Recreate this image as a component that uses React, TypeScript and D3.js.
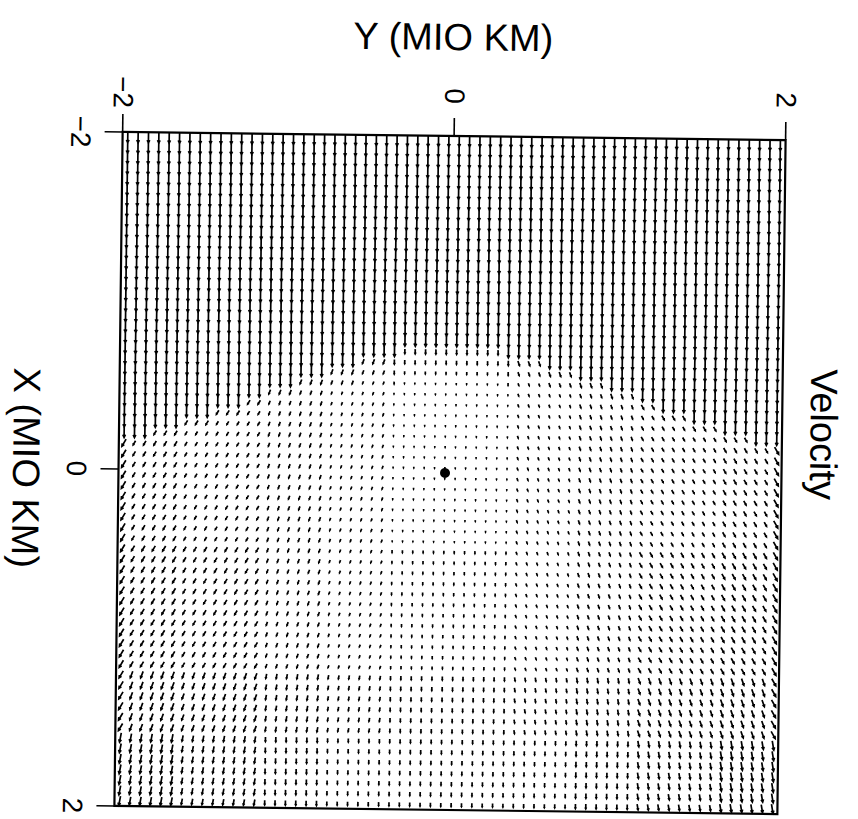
import React from "react";
import * as d3 from "d3";

const W = 858;
const H = 819;
// plot frame before the small scan rotation is applied
const frame = { left: 118.5, right: 781.5, top: 136, bottom: 810 };
const scanTilt = 0.7;

const yTicks = [-2, 0, 2];
const xTicks = [-2, 0, 2];
const gridN = 64;
const nucleus = { x: 0, y: -0.03 };

// speed level per arrow (0..9, 9 = one grid cell), run length coded "count:level"
// rows go from X = -2 (top) to X = 2 (bottom), columns from Y = -2 to Y = 2
const speedRows = [
  "64:9", "64:9", "64:9", "64:9", "64:9", "64:9", "64:9", "64:9", "64:9", "64:9",
  "64:9", "64:9", "64:9", "64:9", "64:9", "64:9", "64:9", "64:9", "64:9", "64:9",
  "27:9 10:4 27:9",
  "23:9 4:4 10:3 4:4 23:9",
  "20:9 3:4 4:3 10:2 4:3 3:4 20:9",
  "17:9 3:4 3:3 4:2 10:1 4:2 3:3 3:4 17:9",
  "14:9 3:4 3:3 6:2 12:1 6:2 3:3 3:4 14:9",
  "12:9 2:4 6:3 6:2 12:1 6:2 6:3 2:4 12:9",
  "9:9 3:4 8:3 6:2 12:1 6:2 8:3 3:4 9:9",
  "6:9 3:4 11:3 6:2 12:1 6:2 11:3 3:4 6:9",
  "3:9 3:4 14:3 6:2 12:1 6:2 14:3 3:4 3:9",
  "1:7 5:4 14:3 6:2 12:1 6:2 14:3 5:4 1:7",
  "1:7 5:4 14:3 6:2 12:1 6:2 14:3 5:4 1:7",
  "1:7 5:4 14:3 6:2 12:1 6:2 14:3 5:4 1:7",
  "1:7 5:4 14:3 6:2 12:1 6:2 14:3 5:4 1:7",
  "1:7 5:4 14:3 6:2 12:1 6:2 14:3 5:4 1:7",
  "1:7 5:4 14:3 6:2 12:1 6:2 14:3 5:4 1:7",
  "1:7 5:4 14:3 6:2 12:1 6:2 14:3 5:4 1:7",
  "1:7 5:4 14:3 6:2 12:1 6:2 14:3 5:4 1:7",
  "1:7 5:4 14:3 6:2 12:1 6:2 14:3 5:4 1:7",
  "1:7 5:4 14:3 6:2 12:1 6:2 14:3 5:4 1:7",
  "1:7 5:5 8:4 6:3 24:2 6:3 8:4 5:5 1:7",
  "1:7 5:5 8:4 6:3 24:2 6:3 8:4 5:5 1:7",
  "1:7 5:5 8:4 6:3 24:2 6:3 8:4 5:5 1:7",
  "1:7 5:5 8:4 6:3 24:2 6:3 8:4 5:5 1:7",
  "1:7 5:5 8:4 6:3 24:2 6:3 8:4 5:5 1:7",
  "1:7 5:5 8:4 6:3 24:2 6:3 8:4 5:5 1:7",
  "1:7 5:5 8:4 6:3 24:2 6:3 8:4 5:5 1:7",
  "1:7 5:5 8:4 6:3 24:2 6:3 8:4 5:5 1:7",
  "1:7 5:5 8:4 6:3 24:2 6:3 8:4 5:5 1:7",
  "1:7 5:5 8:4 6:3 24:2 6:3 8:4 5:5 1:7",
  "1:7 5:5 8:4 6:3 24:2 6:3 8:4 5:5 1:7",
  "1:7 5:5 8:4 6:3 24:2 6:3 8:4 5:5 1:7",
  "1:7 5:6 8:5 6:4 24:3 6:4 8:5 5:6 1:7",
  "1:7 5:6 8:5 6:4 24:3 6:4 8:5 5:6 1:7",
  "1:7 5:6 8:5 6:4 24:3 6:4 8:5 5:6 1:7",
  "1:7 5:6 8:5 6:4 24:3 6:4 8:5 5:6 1:7",
  "1:7 5:6 8:5 6:4 24:3 6:4 8:5 5:6 1:7",
  "1:7 5:6 8:5 6:4 24:3 6:4 8:5 5:6 1:7",
  "1:8 5:7 8:5 6:4 24:3 6:4 8:5 5:7 1:8",
  "1:8 5:7 8:5 6:4 24:3 6:4 8:5 5:7 1:8",
  "1:8 5:7 8:5 6:4 24:3 6:4 8:5 5:7 1:8",
  "1:8 5:7 8:5 6:4 24:3 6:4 8:5 5:7 1:8",
  "1:8 5:7 8:5 6:4 24:3 6:4 8:5 5:7 1:8",
  "1:8 5:7 8:5 6:4 24:3 6:4 8:5 5:7 1:8",
  "1:8 5:7 8:5 6:4 24:3 6:4 8:5 5:7 1:8",
];

// deflection of each arrow: 0 none, a/b/c towards -Y, A/B/C towards +Y
const tiltRows = [
  "64:0", "64:0", "64:0", "64:0", "64:0", "64:0", "64:0", "64:0", "64:0", "64:0",
  "64:0", "64:0", "64:0", "64:0", "64:0", "64:0", "64:0", "64:0", "64:0", "64:0",
  "64:0",
  "23:0 3:b 12:0 3:B 23:0",
  "20:0 6:b 12:0 6:B 20:0",
  "17:0 9:b 12:0 9:B 17:0",
  "14:0 12:b 12:0 12:B 14:0",
  "12:0 2:c 12:b 12:0 12:B 2:C 12:0",
  "9:0 5:c 12:b 12:0 12:B 5:C 9:0",
  "6:0 8:c 12:b 12:0 12:B 8:C 6:0",
  "3:0 11:c 12:b 12:0 12:B 11:C 3:0",
  "14:c 12:b 12:0 12:B 14:C", "14:c 12:b 12:0 12:B 14:C", "14:c 12:b 12:0 12:B 14:C",
  "14:c 12:b 12:0 12:B 14:C", "14:c 12:b 12:0 12:B 14:C", "14:c 12:b 12:0 12:B 14:C",
  "14:c 12:b 12:0 12:B 14:C", "14:c 12:b 12:0 12:B 14:C", "14:c 12:b 12:0 12:B 14:C",
  "14:c 12:b 12:0 12:B 14:C", "14:c 12:b 12:0 12:B 14:C", "14:c 12:b 12:0 12:B 14:C",
  "14:c 12:b 12:0 12:B 14:C", "14:c 12:b 12:0 12:B 14:C", "14:c 12:b 12:0 12:B 14:C",
  "14:c 12:b 12:0 12:B 14:C", "14:c 12:b 12:0 12:B 14:C", "14:c 12:b 12:0 12:B 14:C",
  "14:c 12:b 12:0 12:B 14:C", "14:c 12:b 12:0 12:B 14:C", "14:c 12:b 12:0 12:B 14:C",
  "14:c 12:b 12:0 12:B 14:C",
  "1:c 13:b 12:a 12:0 12:A 13:B 1:C",
  "1:c 13:b 12:a 12:0 12:A 13:B 1:C",
  "1:c 13:b 12:a 12:0 12:A 13:B 1:C",
  "1:c 13:b 12:a 12:0 12:A 13:B 1:C",
  "1:c 13:b 12:a 12:0 12:A 13:B 1:C",
  "1:c 13:b 12:a 12:0 12:A 13:B 1:C",
  "14:a 36:0 14:A", "14:a 36:0 14:A", "14:a 36:0 14:A", "14:a 36:0 14:A",
  "14:a 36:0 14:A", "14:a 36:0 14:A", "14:a 36:0 14:A",
];

const tiltDeg: Record<string, number> = { "0": 0, a: -10, b: -20, c: -30, A: 10, B: 20, C: 30 };

function expand(row: string): string[] {
  let out: string[] = [];
  row.split(" ").forEach(function (seg) {
    let parts = seg.split(":");
    for (let k = 0; k < +parts[0]; k++) out.push(parts[1]);
  });
  return out;
}

const font = "'Liberation Sans', Arial, Helvetica, sans-serif";

class VelocityField extends React.Component<any> {
  svg: SVGSVGElement | null = null;

  componentDidMount() {
    this.drawChart();
  }

  shouldComponentUpdate() {
    return false;
  }

  drawChart() {
    let cx = (frame.left + frame.right) / 2;
    let cy = (frame.top + frame.bottom) / 2;

    let root = d3.select(this.svg).append("g")
      .attr("transform", "rotate(" + scanTilt + "," + cx + "," + cy + ")");

    // Y runs left to right, X runs top to bottom
    let y = d3.scaleLinear().domain([-2, 2]).range([frame.left, frame.right]);
    let x = d3.scaleLinear().domain([-2, 2]).range([frame.top, frame.bottom]);

    let coords = d3.range(gridN).map(function (k) { return -2 + (k + 0.5) * 4 / gridN; });
    let cell = (frame.bottom - frame.top) / gridN;

    let arrows: any[] = [];
    speedRows.forEach(function (row, i) {
      let speeds = expand(row);
      let tilts = expand(tiltRows[i]);
      speeds.forEach(function (s, j) {
        arrows.push({ X: coords[i], Y: coords[j], level: +s, tilt: tiltDeg[tilts[j]] });
      });
    });

    let arrowPath = function (d: any) {
      let len = d.level / 9 * cell;
      let a = d.tilt * Math.PI / 180;
      let dx = Math.sin(a) * len;
      let dy = Math.cos(a) * len;
      let px = y(d.Y), py = x(d.X);
      let x0 = px - dx / 2, y0 = py - dy / 2;
      let x1 = px + dx / 2, y1 = py + dy / 2;
      let h = Math.min(3, len * 0.35);
      let back = Math.atan2(-dy, -dx);
      let hx1 = x1 + Math.cos(back + 0.45) * h, hy1 = y1 + Math.sin(back + 0.45) * h;
      let hx2 = x1 + Math.cos(back - 0.45) * h, hy2 = y1 + Math.sin(back - 0.45) * h;
      return "M" + x0 + "," + y0 + "L" + x1 + "," + y1 +
        "M" + hx1 + "," + hy1 + "L" + x1 + "," + y1 + "L" + hx2 + "," + hy2;
    };

    root.append("g")
      .attr("class", "arrows")
      .selectAll("path")
      .data(arrows)
      .enter().append("path")
      .attr("d", arrowPath)
      .attr("fill", "none")
      .attr("stroke", "#000")
      .attr("stroke-width", 1.7);

    // frame
    root.append("rect")
      .attr("x", frame.left)
      .attr("y", frame.top)
      .attr("width", frame.right - frame.left)
      .attr("height", frame.bottom - frame.top)
      .attr("fill", "none")
      .attr("stroke", "#000")
      .attr("stroke-width", 2.2);

    // ticks along the top (Y) and the left side (X)
    root.selectAll(".ytick")
      .data(yTicks)
      .enter().append("line")
      .attr("class", "ytick")
      .attr("x1", function (d) { return y(d); })
      .attr("x2", function (d) { return y(d); })
      .attr("y1", frame.top)
      .attr("y2", frame.top - 18)
      .attr("stroke", "#000")
      .attr("stroke-width", 1.6);

    root.selectAll(".xtick")
      .data(xTicks)
      .enter().append("line")
      .attr("class", "xtick")
      .attr("y1", function (d) { return x(d); })
      .attr("y2", function (d) { return x(d); })
      .attr("x1", frame.left)
      .attr("x2", frame.left - 18)
      .attr("stroke", "#000")
      .attr("stroke-width", 1.6);

    let fmt = d3.format("d");

    root.selectAll(".ylabel")
      .data(yTicks)
      .enter().append("text")
      .attr("class", "ylabel")
      .attr("transform", function (d) { return "translate(" + y(d) + "," + (frame.top - 40) + ") rotate(90)"; })
      .attr("text-anchor", "middle")
      .attr("dominant-baseline", "central")
      .style("font-family", font)
      .style("font-size", "28px")
      .text(function (d) { return fmt(d); });

    root.selectAll(".xlabel")
      .data(xTicks)
      .enter().append("text")
      .attr("class", "xlabel")
      .attr("transform", function (d) { return "translate(" + (frame.left - 42) + "," + x(d) + ") rotate(90)"; })
      .attr("text-anchor", "middle")
      .attr("dominant-baseline", "central")
      .style("font-family", font)
      .style("font-size", "28px")
      .text(function (d) { return fmt(d); });

    // axis titles
    root.append("text")
      .attr("x", 448)
      .attr("y", 50)
      .attr("text-anchor", "middle")
      .style("font-family", font)
      .style("font-size", "38px")
      .text("Y (MIO KM)");

    root.append("text")
      .attr("transform", "translate(26," + x(0) + ") rotate(90)")
      .attr("text-anchor", "middle")
      .attr("dominant-baseline", "central")
      .style("font-family", font)
      .style("font-size", "38px")
      .text("X (MIO KM)");

    root.append("text")
      .attr("transform", "translate(823,430) rotate(90)")
      .attr("text-anchor", "middle")
      .attr("dominant-baseline", "central")
      .style("font-family", font)
      .style("font-size", "38px")
      .text("Velocity");

    // nucleus
    root.append("circle")
      .attr("cx", y(nucleus.y))
      .attr("cy", x(nucleus.x))
      .attr("r", 5)
      .attr("fill", "#000");
  }

  render() {
    return (
      <svg
        width={W}
        height={H}
        style={{ position: "absolute", left: 0, top: 0, background: "#fff" }}
        ref={(elem) => { this.svg = elem; }}
      ></svg>
    );
  }
}

export default function App() {
  return <VelocityField />;
}
